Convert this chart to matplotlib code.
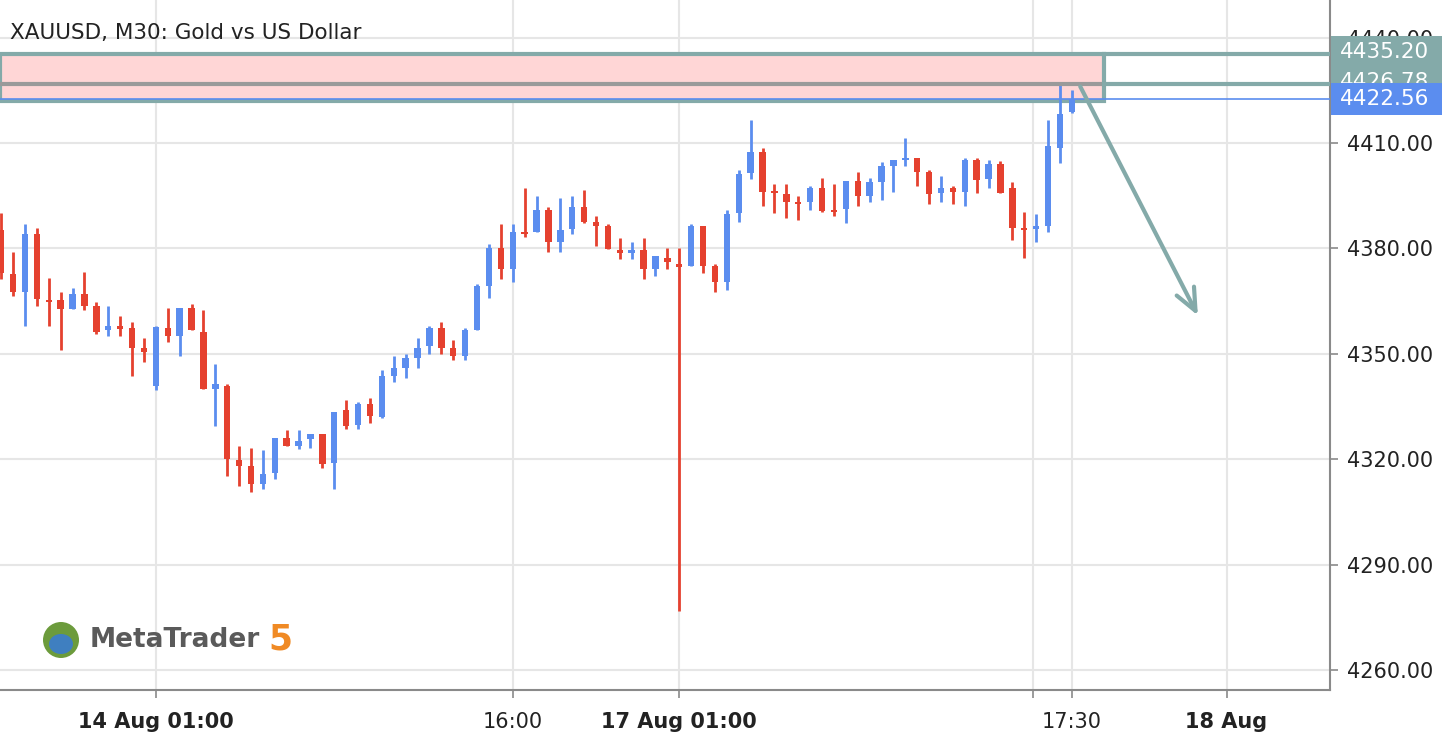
import matplotlib
matplotlib.use("Agg")
import matplotlib.pyplot as plt
from matplotlib.patches import Rectangle, Ellipse

# ---- data (M30 candles, index 0 = 14 Aug 01:00) ----
start_index = -13
opens = [4385.2, 4372.7, 4367.6, 4384.1, 4365.2, 4365.3, 4362.7, 4367.0, 4363.6, 4356.8, 4357.6, 4357.3, 4351.6,
         4340.8, 4357.3, 4355.1, 4363.0, 4356.2, 4340.0, 4340.8, 4319.8, 4318.1, 4312.9, 4316.1, 4326.0, 4323.7, 4325.7,
         4327.2, 4318.9, 4334.0, 4329.7, 4335.7, 4332.0, 4343.7, 4346.0, 4348.8, 4352.2, 4357.3, 4351.6, 4349.4, 4356.8,
         4369.3, 4380.1, 4374.1, 4384.6, 4384.7, 4390.9, 4381.8, 4385.5, 4391.8, 4387.5, 4386.4, 4379.5, 4378.7, 4379.5,
         4374.1, 4377.3, 4375.3, 4375.0, 4386.4, 4375.0, 4370.4, 4390.1, 4401.5, 4407.4, 4396.2, 4395.5, 4393.0, 4393.2,
         4397.2, 4390.9, 4391.2, 4399.2, 4394.9, 4398.9, 4403.5, 4405.2, 4405.7, 4401.7, 4395.8, 4397.2, 4396.1, 4405.2,
         4399.8, 4404.0, 4397.2, 4385.6, 4385.5, 4386.4, 4408.6, 4418.8]
highs = [4390.1, 4379.0, 4387.0, 4385.8, 4371.6, 4367.6, 4368.7, 4373.3, 4364.7, 4363.6, 4360.8, 4359.0, 4354.5,
         4357.9, 4363.0, 4363.0, 4364.2, 4362.5, 4347.1, 4341.4, 4323.7, 4323.2, 4322.6, 4326.0, 4328.3, 4328.3, 4327.2,
         4327.2, 4333.4, 4336.8, 4336.3, 4337.4, 4345.4, 4349.4, 4349.9, 4354.5, 4357.9, 4359.0, 4353.9, 4357.3, 4369.9,
         4381.2, 4386.9, 4386.9, 4397.2, 4394.9, 4391.8, 4394.3, 4394.9, 4396.6, 4389.2, 4386.9, 4383.0, 4381.8, 4383.0,
         4377.8, 4380.1, 4380.1, 4386.9, 4386.4, 4375.6, 4390.9, 4402.3, 4416.5, 4408.6, 4398.3, 4398.3, 4394.9, 4397.8,
         4400.0, 4398.3, 4399.2, 4401.7, 4400.0, 4404.6, 4405.2, 4411.4, 4405.7, 4402.3, 4400.6, 4397.8, 4405.7, 4405.7,
         4405.2, 4404.9, 4398.9, 4390.4, 4389.8, 4416.5, 4427.1, 4425.1]
lows = [4371.3, 4366.4, 4357.9, 4363.6, 4357.9, 4351.1, 4362.7, 4362.5, 4355.6, 4355.1, 4355.1, 4343.7, 4347.7,
        4339.7, 4353.4, 4349.4, 4356.8, 4340.0, 4329.4, 4315.2, 4312.4, 4310.7, 4311.5, 4314.4, 4323.7, 4322.9, 4323.2,
        4317.5, 4311.5, 4328.6, 4328.6, 4330.3, 4331.7, 4342.0, 4343.1, 4346.0, 4349.9, 4349.9, 4348.2, 4348.2, 4356.8,
        4365.9, 4371.3, 4370.4, 4383.2, 4384.7, 4379.0, 4379.0, 4384.1, 4387.2, 4380.7, 4379.8, 4377.0, 4377.0, 4371.3,
        4372.1, 4374.1, 4276.8, 4375.0, 4373.0, 4367.6, 4368.2, 4387.5, 4399.8, 4392.1, 4390.1, 4388.7, 4388.1, 4390.9,
        4390.4, 4389.2, 4387.2, 4392.1, 4393.2, 4393.8, 4396.1, 4403.5, 4397.8, 4392.6, 4393.2, 4392.6, 4392.1, 4395.8,
        4397.2, 4395.8, 4382.4, 4377.3, 4381.8, 4384.7, 4404.3, 4418.5]
closes = [4373.0, 4367.6, 4384.1, 4365.6, 4364.8, 4362.7, 4367.0, 4363.6, 4356.2, 4357.9, 4357.4, 4351.6, 4350.5,
          4357.6, 4355.1, 4363.0, 4356.8, 4340.0, 4341.4, 4320.0, 4318.1, 4312.9, 4315.8, 4326.0, 4323.7, 4325.2, 4327.2,
          4318.6, 4333.4, 4329.4, 4335.7, 4332.3, 4343.7, 4346.0, 4348.8, 4351.6, 4357.3, 4351.6, 4349.4, 4356.8, 4369.3,
          4380.1, 4374.1, 4384.7, 4384.2, 4390.9, 4381.8, 4385.2, 4391.8, 4387.5, 4386.4, 4379.8, 4378.7, 4379.5, 4374.1,
          4377.8, 4376.1, 4375.0, 4386.4, 4375.0, 4370.4, 4389.8, 4401.2, 4407.4, 4396.1, 4395.8, 4393.2, 4392.8, 4397.2,
          4390.6, 4390.4, 4399.2, 4394.9, 4398.9, 4403.5, 4405.2, 4405.6, 4401.7, 4395.5, 4397.2, 4396.1, 4405.2, 4399.5,
          4404.0, 4395.8, 4385.8, 4385.4, 4386.4, 4409.1, 4418.3, 4422.56]

zone_top = 4435.20
zone_mid = 4426.78
zone_bottom = 4422.0
last_price = 4422.56
zone_end_index = 79.7
arrow_start = (77.6, 4426.78)
arrow_end = (87.7, 4360.2)

y_ticks = [4260, 4290, 4320, 4350, 4380, 4410, 4440]
x_tick_pos = [0, 30, 44, 73.7, 77, 90]
x_tick_labels = ["14 Aug 01:00", "16:00", "17 Aug 01:00", "", "17:30", "18 Aug"]
x_tick_bold = [True, False, True, False, False, True]

BLUE = "#5b8def"
RED = "#e5412f"
TEAL = "#84aaa9"

fig = plt.figure(figsize=(14.42, 7.40), dpi=100)
ax = fig.add_axes([0, 50/740, 1330/1442, 690/740])
ax.set_xlim(-13.1, 98.7)
ax.set_ylim(4254.3, 4450.7)

for i in range(len(opens)):
    x = start_index + i
    o, h, l, c = opens[i], highs[i], lows[i], closes[i]
    col = BLUE if c >= o else RED
    ax.plot([x, x], [l, h], color=col, lw=2, solid_capstyle="butt", zorder=3)
    lo, hi = min(o, c), max(o, c)
    if hi - lo < 0.6:
        lo, hi = (o + c) / 2 - 0.35, (o + c) / 2 + 0.35
    ax.add_patch(Rectangle((x - 0.27, lo), 0.54, hi - lo, facecolor=col, edgecolor="none", zorder=4))

# zone
ax.add_patch(Rectangle((-13.1, zone_bottom), zone_end_index + 13.1, zone_top - zone_bottom,
                       facecolor="#ffd6d6", edgecolor=TEAL, lw=3, zorder=2))
ax.plot([zone_end_index, 98.7], [zone_top, zone_top], color=TEAL, lw=3, zorder=5)
ax.plot([-13.1, zone_end_index], [zone_mid, zone_mid], color="#9a9a9a", lw=3, zorder=5)
ax.plot([zone_end_index, 98.7], [zone_mid, zone_mid], color=TEAL, lw=3, zorder=5)
ax.axhline(last_price, color=BLUE, lw=1.2, zorder=5)
ax.annotate("", xy=arrow_end, xytext=arrow_start,
            arrowprops=dict(arrowstyle="->,head_length=1.6,head_width=0.7", color=TEAL, lw=3), zorder=6)

# grid / ticks
ax.set_yticks(y_ticks)
ax.set_xticks(x_tick_pos)
ax.grid(True, color="#e6e6e6", lw=1.5, zorder=0)
ax.yaxis.tick_right()
ax.set_yticklabels([f"{v:.2f}" for v in y_ticks], fontsize=15)
ax.set_xticklabels(x_tick_labels, fontsize=15)
for lab, b in zip(ax.get_xticklabels(), x_tick_bold):
    if b:
        lab.set_fontweight("bold")
ax.tick_params(axis="both", colors="#8a8a8a", labelcolor="#222222", length=6, width=1.2)
ax.tick_params(axis="x", pad=10)
ax.tick_params(axis="y", pad=6)
for s in ["top", "left"]:
    ax.spines[s].set_visible(False)
ax.spines["right"].set_color("#8a8a8a")
ax.spines["bottom"].set_color("#8a8a8a")
ax.spines["right"].set_linewidth(1.5)
ax.spines["bottom"].set_linewidth(1.5)

# price labels (boxes)
def price_box(yc, color, z):
    fig.patches.append(Rectangle((1331/1442, 1 - (yc + 16)/740), 111/1442, 32/740,
                                 transform=fig.transFigure, fc=color, ec="none", zorder=z))
price_box(52, TEAL, 10)
price_box(82, TEAL, 10)
price_box(99, BLUE, 12)
fig.text(1340/1442, 1 - 52/740, f"{zone_top:.2f}", fontsize=15.5, color="white", va="center", ha="left", zorder=11)
fig.text(1340/1442, 1 - 82/740, f"{zone_mid:.2f}", fontsize=15.5, color="white", va="center", ha="left", zorder=11)
fig.text(1340/1442, 1 - 99/740, f"{last_price:.2f}", fontsize=15.5, color="white", va="center", ha="left", zorder=13)

fig.text(10/1442, 1 - 33/740, "XAUUSD, M30: Gold vs US Dollar", fontsize=15.5, color="#222222", va="center")
fig.text(90/1442, 1 - 640/740, "MetaTrader", fontsize=19, fontweight="bold", color="#5a5a5a", va="center")
fig.text(268/1442, 1 - 640/740, "5", fontsize=25, fontweight="bold", color="#f08a24", va="center")
fig.patches.append(Ellipse((61/1442, 1 - 640/740), 36/1442, 36/740, transform=fig.transFigure,
                           fc="#6c9b3c", ec="none"))
fig.patches.append(Ellipse((61/1442, 1 - 644/740), 24/1442, 20/740, transform=fig.transFigure,
                           fc="#3f7fc0", ec="none"))

fig.savefig("out.png", dpi=100)
